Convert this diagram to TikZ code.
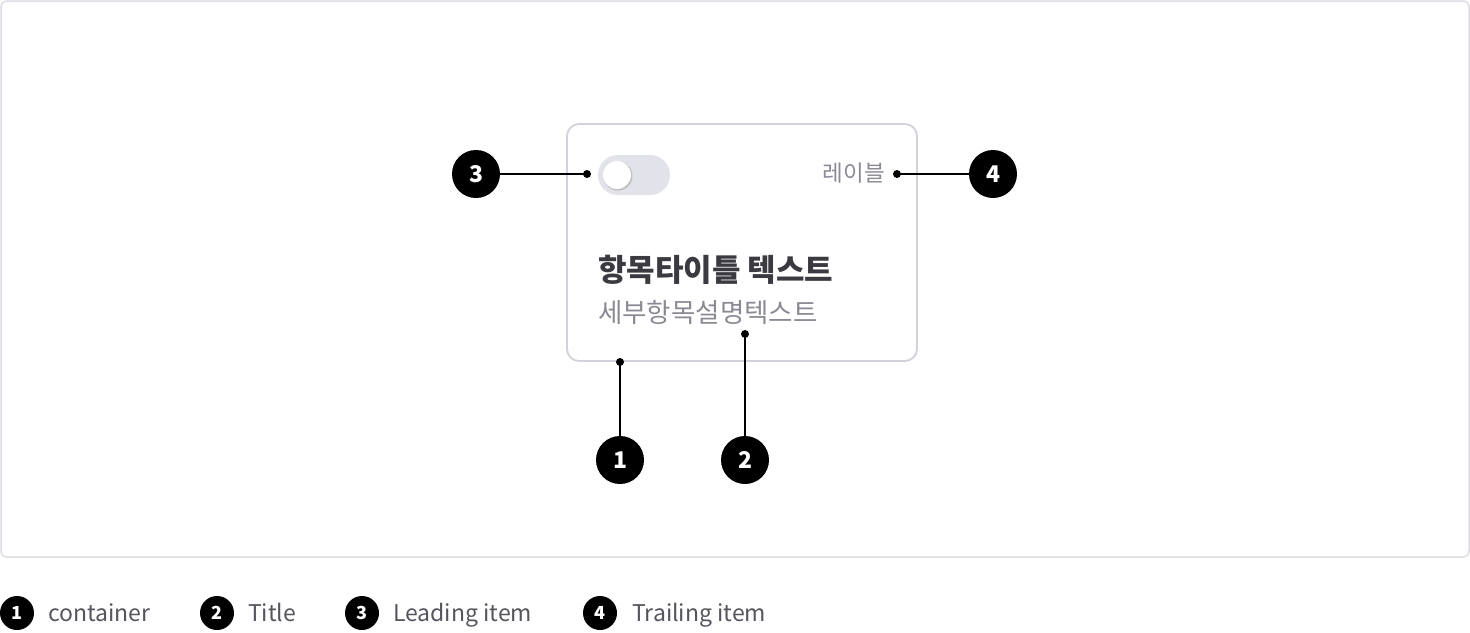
\documentclass[tikz,border=0pt]{standalone}
\usepackage{fontspec}
\setmainfont{Noto Sans CJK KR}
\definecolor{framegray}{HTML}{DCDCE4}
\definecolor{cardgray}{HTML}{D2D2DC}
\definecolor{togglegray}{HTML}{E2E2EA}
\definecolor{titlecol}{HTML}{3A3A40}
\definecolor{subcol}{HTML}{8A8A94}
\definecolor{legendcol}{HTML}{55555E}
\tikzset{
  badge/.style={circle, fill=black, text=white, minimum size=48pt, inner sep=0pt, font=\fontsize{23}{23}\selectfont\bfseries},
  smallbadge/.style={circle, fill=black, text=white, minimum size=34pt, inner sep=0pt, font=\fontsize{18}{18}\selectfont\bfseries},
  legendtext/.style={anchor=base west, inner sep=0pt, text=legendcol, font=\fontsize{23}{23}\selectfont},
  dot/.style={circle, fill=black, minimum size=8pt, inner sep=0pt}
}
\begin{document}
\begin{tikzpicture}[x=1pt, y=-1pt]
  \useasboundingbox (0,0) rectangle (1470,632);
  % frame and card
  \draw[framegray, line width=1.5pt, rounded corners=6pt] (1,1) rectangle (1469,557);
  \draw[cardgray, line width=1.8pt, rounded corners=12pt, fill=white] (567,124) rectangle (917,361);
  % toggle
  \fill[togglegray, rounded corners=20pt] (598,155) rectangle (670,195);
  \fill[black!25] (618,176) circle (14.5pt);
  \fill[white] (617,175) circle (14pt);
  % texts
  \draw
    (885,173) node[anchor=east, inner sep=0pt, text=subcol, font=\fontsize{22.5}{22.5}\selectfont] (lbl){레이블}
    (598,270) node[anchor=west, inner sep=0pt, text=titlecol, font=\fontsize{31}{31}\selectfont\bfseries] (ttl){항목타이틀 텍스트}
    (598,312) node[anchor=west, inner sep=0pt, text=subcol, font=\fontsize{26.5}{26.5}\selectfont] (sub){세부항목설명텍스트};
  % badges and dots
  \draw
    (476,174) node[badge] (b3){3}
    (993,174) node[badge] (b4){4}
    (620,460) node[badge] (b1){1}
    (745,460) node[badge] (b2){2}
    (587,174) node[dot] (d3){}
    (897,174) node[dot] (d4){}
    (620,362) node[dot] (d1){}
    (745,334) node[dot] (d2){};
  \begin{scope}[line width=1.6pt]
    \draw (b3) to (d3.center);
    \draw (b4) to (d4.center);
    \draw (b1) to (d1.center);
    \draw (b2) to (d2.center);
  \end{scope}
  % legend
  \draw
    (17,613) node[smallbadge] (l1){1}
    (48,621) node[legendtext] (t1){container}
    (217,613) node[smallbadge] (l2){2}
    (248,621) node[legendtext] (t2){Title}
    (362,613) node[smallbadge] (l3){3}
    (393,621) node[legendtext] (t3){Leading item}
    (600,613) node[smallbadge] (l4){4}
    (632,621) node[legendtext] (t4){Trailing item};
\end{tikzpicture}
\end{document}
